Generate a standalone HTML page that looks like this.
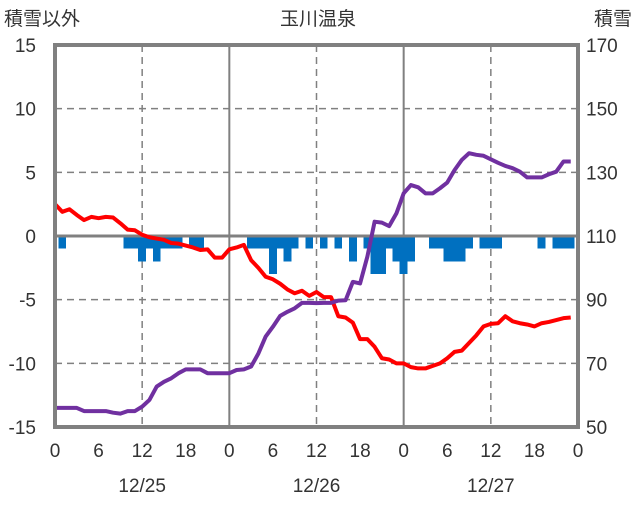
<!DOCTYPE html>
<html><head><meta charset="utf-8"><style>
body{margin:0;background:#fff;}
svg text{font-family:"Liberation Sans","Noto Sans CJK JP",sans-serif;fill:#333;}
</style></head><body>
<svg id="chart" width="636" height="501"></svg>
<script>
const hourTicks=[0,6,12,18,0,6,12,18,0,6,12,18,0];
const dateLabels=["12/25","12/26","12/27"];
const leftTicks=[15,10,5,0,-5,-10,-15];
const rightTicks=[170,150,130,110,90,70,50];
const barHours=[1,10,11,12,13,14,15,16,17,19,20,27,28,29,30,31,32,33,35,37,39,41,43,44,45,46,47,48,49,52,53,54,55,56,57,59,60,61,67,69,70,71];
const barValues=[-1,-1,-1,-2,-1,-2,-1,-1,-1,-1,-1,-1,-1,-1,-3,-1,-2,-1,-1,-1,-1,-2,-1,-3,-3,-1,-2,-3,-2,-1,-1,-2,-2,-2,-1,-1,-1,-1,-1,-1,-1,-1];
const tempValues=[2.5,1.9,2.1,1.65,1.25,1.5,1.4,1.5,1.45,1.0,0.5,0.45,0.1,-0.1,-0.2,-0.3,-0.55,-0.6,-0.75,-0.9,-1.1,-1.05,-1.7,-1.7,-1.05,-0.9,-0.7,-1.9,-2.5,-3.2,-3.4,-3.75,-4.2,-4.5,-4.3,-4.7,-4.4,-4.8,-4.8,-6.3,-6.4,-6.8,-8.1,-8.1,-8.7,-9.6,-9.7,-10.0,-10.0,-10.3,-10.4,-10.4,-10.2,-10.0,-9.6,-9.1,-9.0,-8.4,-7.8,-7.1,-6.9,-6.85,-6.3,-6.7,-6.85,-6.95,-7.1,-6.85,-6.75,-6.6,-6.45,-6.4];
const snowValues=[56,56,56,56,55,55,55,55,54.5,54.2,55,55,56.4,58.5,62.7,64.2,65.3,66.9,68.1,68.1,68.1,66.9,66.9,66.9,66.9,67.9,68.1,69,73.1,78.4,81.5,84.9,86.2,87.3,89,89,88.9,89,89,89.7,89.8,95.6,95.1,103.5,114.5,114.2,113.1,117.1,123.4,126,125.3,123.4,123.4,125,126.8,130.7,133.9,136,135.5,135.2,134.1,133,132,131.3,130.2,128.4,128.4,128.4,129.4,130.2,133.4,133.4];

const X0=55,X1=578,Y0=45,Y1=427;
const xs=h=>X0+(X1-X0)*h/72;
const yL=v=>Y0+(15-v)*(Y1-Y0)/30;
const yR=v=>Y0+(170-v)*(Y1-Y0)/120;
const svg=document.getElementById('chart');
const NS='http://www.w3.org/2000/svg';
function mk(tag,attrs,parent){const e=document.createElementNS(NS,tag);for(const k in attrs)e.setAttribute(k,attrs[k]);(parent||svg).appendChild(e);return e;}
// grid
[10,5,-5,-10].forEach(v=>{const l=mk('line',{x1:X0,x2:X1,y1:yL(v),y2:yL(v),stroke:'#808080','stroke-width':1.5,'stroke-dasharray':'7,5'});

});
[12,36,60].forEach(h=>{const l=mk('line',{x1:xs(h),x2:xs(h),y1:Y0,y2:Y1,stroke:'#808080','stroke-width':1.5,'stroke-dasharray':'7,5'});

});
[24,48].forEach(h=>{const l=mk('line',{x1:xs(h),x2:xs(h),y1:Y0,y2:Y1,stroke:'#808080','stroke-width':2});

});
// bars
const bw=(X1-X0)/72;
barHours.forEach((h,i)=>{const v=barValues[i];const r=mk('rect',{x:xs(h)-bw/2-0.3,y:yL(0),width:bw+0.6,height:yL(v)-yL(0),fill:'#0070c0','shape-rendering':'crispEdges'});

});
const zl=mk('line',{x1:X0,x2:X1,y1:yL(0),y2:yL(0),stroke:'#808080','stroke-width':3});


// lines
const tp=mk('polyline',{points:tempValues.map((v,i)=>xs(i)+','+yL(v)).join(' '),fill:'none',stroke:'#ff0000','stroke-width':4,'stroke-linejoin':'round'});


const sp=mk('polyline',{points:snowValues.map((v,i)=>xs(i)+','+yR(v)).join(' '),fill:'none',stroke:'#7030a0','stroke-width':4,'stroke-linejoin':'round'});


// frame
const fr=mk('rect',{x:X0,y:Y0,width:X1-X0,height:Y1-Y0,fill:'none',stroke:'#808080','stroke-width':4});


// ticks
leftTicks.forEach(v=>{const t=mk('text',{x:36,y:yL(v)+7,'text-anchor':'end','font-size':19});t.textContent=v;

});
rightTicks.forEach(v=>{const t=mk('text',{x:586,y:yR(v)+7,'font-size':19});t.textContent=v;

});
hourTicks.forEach((v,i)=>{const t=mk('text',{x:xs(i*6),y:457,'text-anchor':'middle','font-size':19});t.textContent=v;

});
dateLabels.forEach((d,i)=>{const t=mk('text',{x:xs(12+24*i),y:492,'text-anchor':'middle','font-size':19});t.textContent=d;

});
const titles=[["玉川温泉",318,'middle','chart-title'],["積雪以外",4,'start','left-axis-title'],["積雪",632,'end','right-axis-title']];
titles.forEach(a=>{const t=mk('text',{x:a[1],y:25,'text-anchor':a[2],'font-size':19});t.textContent=a[0];

});
</script>
</body></html>
